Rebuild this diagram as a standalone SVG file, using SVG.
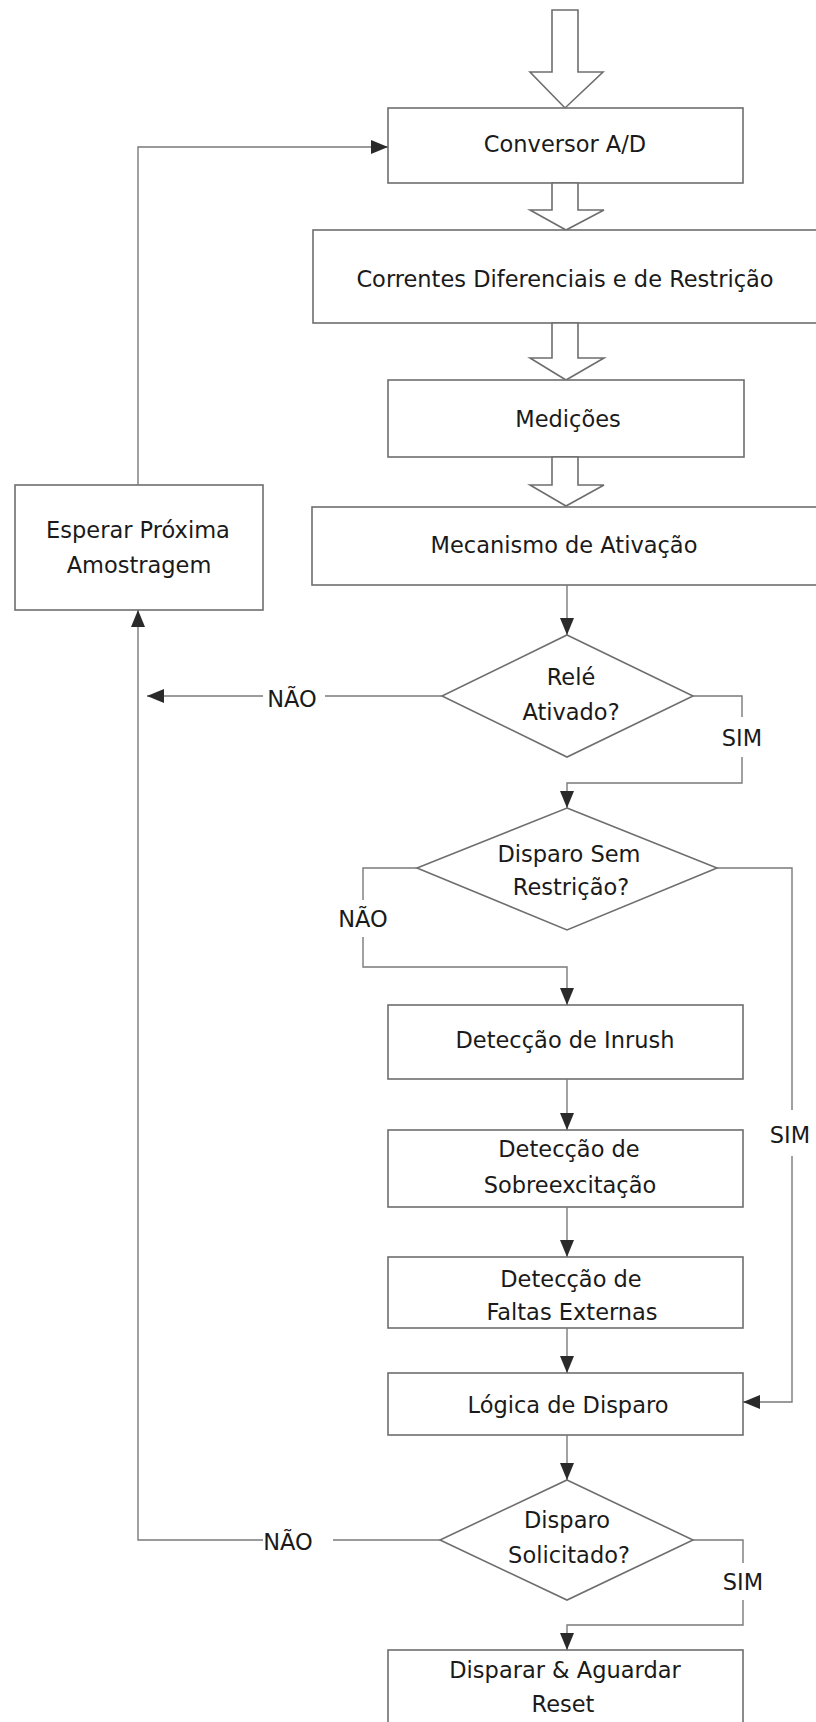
<svg xmlns="http://www.w3.org/2000/svg" width="816" height="1722" viewBox="0 0 816 1722">
<style>
  .box{fill:#ffffff;stroke:#6e6e6e;stroke-width:1.6}
  .blk{fill:#ffffff;stroke:#6e6e6e;stroke-width:1.6;stroke-linejoin:miter}
  .t{font-family:"DejaVu Sans","Liberation Sans",sans-serif;font-size:22.5px;fill:#1a1a1a;text-anchor:middle}
  .c{fill:none;stroke:#7a7a7a;stroke-width:1.4}
</style>
<defs>
  <marker id="ah" markerUnits="userSpaceOnUse" markerWidth="18" markerHeight="14" refX="17" refY="7" orient="auto">
    <path d="M0,0 L17,7 L0,14 Z" fill="#2a2a2a"/>
  </marker>
</defs>
<rect width="816" height="1722" fill="#ffffff"/>

<g id="nodes">
  <g id="entrada">
    <polygon class="blk" points="552,10 578,10 578,72 603,72 565,108 530,72 552,72"/>
  </g>
  <g id="conversor">
    <rect class="box" x="388" y="108" width="355" height="75"/>
    <text class="t" x="565" y="152">Conversor A/D</text>
  </g>
  <g id="seta1">
    <polygon class="blk" points="552,183 578,183 578,210 604,210 566,230 530,210 552,210"/>
  </g>
  <g id="correntes">
    <rect class="box" x="313" y="230" width="520" height="93"/>
    <text class="t" x="565" y="287">Correntes Diferenciais e de Restrição</text>
  </g>
  <g id="seta2">
    <polygon class="blk" points="552,323 578,323 578,358 604,358 566,380 530,358 552,358"/>
  </g>
  <g id="medicoes">
    <rect class="box" x="388" y="380" width="356" height="77"/>
    <text class="t" x="568" y="427">Medições</text>
  </g>
  <g id="seta3">
    <polygon class="blk" points="552,457 578,457 578,485 604,485 566,506 530,485 552,485"/>
  </g>
  <g id="mecanismo">
    <rect class="box" x="312" y="507" width="521" height="78"/>
    <text class="t" x="564" y="553">Mecanismo de Ativação</text>
  </g>
  <g id="esperar">
    <rect class="box" x="15" y="485" width="248" height="125"/>
    <text class="t" x="138" y="538">Esperar Próxima</text>
    <text class="t" x="139" y="573">Amostragem</text>
  </g>
  <g id="rele">
    <polygon class="box" points="567,635 693,696 567,757 442,696"/>
    <text class="t" x="571" y="685">Relé</text>
    <text class="t" x="571" y="720">Ativado?</text>
  </g>
  <g id="semrestricao">
    <polygon class="box" points="567,808 717,868 567,930 417,868"/>
    <text class="t" x="569" y="862">Disparo Sem</text>
    <text class="t" x="571" y="895">Restrição?</text>
  </g>
  <g id="inrush">
    <rect class="box" x="388" y="1005" width="355" height="74"/>
    <text class="t" x="565" y="1048">Detecção de Inrush</text>
  </g>
  <g id="sobreexcitacao">
    <rect class="box" x="388" y="1130" width="355" height="77"/>
    <text class="t" x="569" y="1157">Detecção de</text>
    <text class="t" x="570" y="1193">Sobreexcitação</text>
  </g>
  <g id="faltas">
    <rect class="box" x="388" y="1257" width="355" height="71"/>
    <text class="t" x="571" y="1287">Detecção de</text>
    <text class="t" x="572" y="1320">Faltas Externas</text>
  </g>
  <g id="logica">
    <rect class="box" x="388" y="1373" width="355" height="62"/>
    <text class="t" x="568" y="1413">Lógica de Disparo</text>
  </g>
  <g id="solicitado">
    <polygon class="box" points="567,1480 693,1540 567,1600 440,1540"/>
    <text class="t" x="567" y="1528">Disparo</text>
    <text class="t" x="569" y="1563">Solicitado?</text>
  </g>
  <g id="disparar">
    <rect class="box" x="388" y="1650" width="355" height="90"/>
    <text class="t" x="565" y="1678">Disparar &amp; Aguardar</text>
    <text class="t" x="563" y="1712">Reset</text>
  </g>
</g>

<g id="connectors">
  <path class="c" d="M567,585 V635" marker-end="url(#ah)"/>
  <path class="c" d="M693,696 H742 V717"/>
  <path class="c" d="M742,757 V783 H567 V808" marker-end="url(#ah)"/>
  <path class="c" d="M442,696 H325"/>
  <path class="c" d="M263,696 H147" marker-end="url(#ah)"/>
  <path class="c" d="M417,868 H363 V900"/>
  <path class="c" d="M363,937 V967 H567 V1005" marker-end="url(#ah)"/>
  <path class="c" d="M717,868 H792 V1110"/>
  <path class="c" d="M792,1156 V1402 H743" marker-end="url(#ah)"/>
  <path class="c" d="M567,1079 V1130" marker-end="url(#ah)"/>
  <path class="c" d="M567,1207 V1257" marker-end="url(#ah)"/>
  <path class="c" d="M567,1328 V1373" marker-end="url(#ah)"/>
  <path class="c" d="M567,1435 V1480" marker-end="url(#ah)"/>
  <path class="c" d="M693,1540 H743 V1563"/>
  <path class="c" d="M743,1600 V1625 H567 V1650" marker-end="url(#ah)"/>
  <path class="c" d="M440,1540 H333"/>
  <path class="c" d="M263,1540 H138 V610" marker-end="url(#ah)"/>
  <path class="c" d="M138,485 V147 H388" marker-end="url(#ah)"/>
  <text class="t" x="292" y="707">NÃO</text>
  <text class="t" x="742" y="746">SIM</text>
  <text class="t" x="363" y="927">NÃO</text>
  <text class="t" x="790" y="1143">SIM</text>
  <text class="t" x="288" y="1550">NÃO</text>
  <text class="t" x="743" y="1590">SIM</text>
</g>
</svg>
